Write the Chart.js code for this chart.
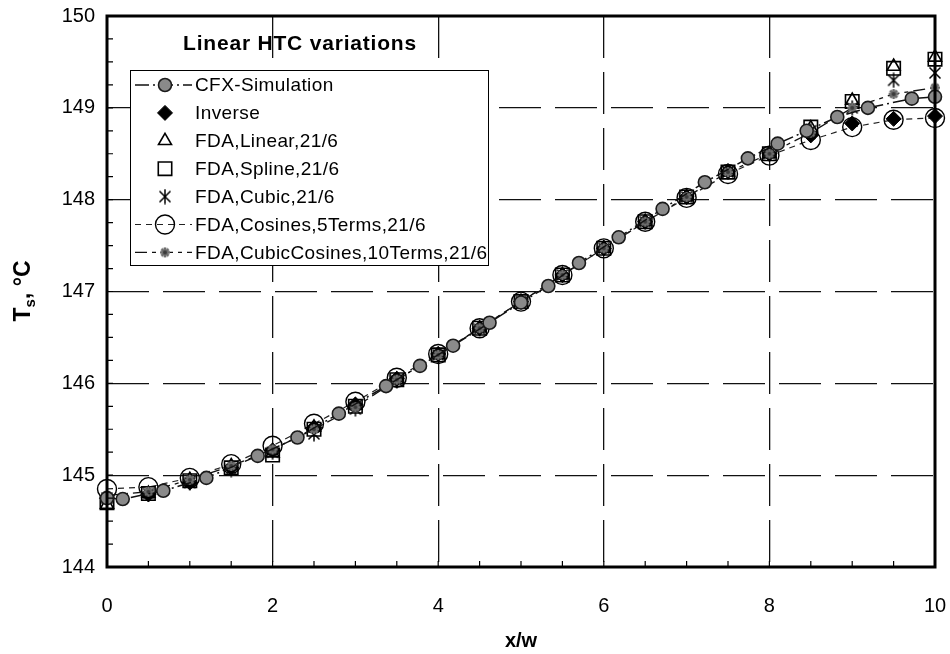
<!DOCTYPE html>
<html>
<head>
<meta charset="utf-8">
<script src="https://cdn.jsdelivr.net/npm/chart.js@4.4.1/dist/chart.umd.min.js"></script>
<style>
html,body{margin:0;padding:0;background:#fff;}
#wrap{width:950px;height:654px;position:relative;}
</style>
</head>
<body>
<div id="wrap"><canvas id="c" width="950" height="654"></canvas></div>
<script>
// ---------- data ----------
const chartTitle = "Linear HTC variations";
const xTitle = "x/w";
const yTicks = [144, 145, 146, 147, 148, 149, 150];
const xTicks = [0, 2, 4, 6, 8, 10];

const cfxX = [0, 0.19, 0.68, 1.2, 1.82, 2.3, 2.8, 3.37, 3.78, 4.18, 4.62, 5.0, 5.33, 5.7, 6.18, 6.71, 7.22, 7.74, 8.1, 8.45, 8.82, 9.19, 9.72, 10];
const cfxY = [144.75, 144.74, 144.83, 144.97, 145.21, 145.41, 145.67, 145.97, 146.19, 146.41, 146.66, 146.88, 147.06, 147.31, 147.59, 147.90, 148.19, 148.45, 148.61, 148.75, 148.90, 149.00, 149.10, 149.12];

const fdaX = [0, 0.5, 1, 1.5, 2, 2.5, 3, 3.5, 4, 4.5, 5, 5.5, 6, 6.5, 7, 7.5, 8, 8.5, 9, 9.5, 10];
const inverseY = [144.75, 144.79, 144.92, 145.08, 145.27, 145.52, 145.77, 146.05, 146.32, 146.60, 146.89, 147.18, 147.47, 147.76, 148.03, 148.31, 148.50, 148.70, 148.83, 148.88, 148.91];
const linearY  = [144.68, 144.80, 144.95, 145.10, 145.24, 145.52, 145.76, 146.04, 146.31, 146.60, 146.89, 147.18, 147.47, 147.76, 148.03, 148.30, 148.50, 148.78, 149.08, 149.45, 149.55];
const splineY  = [144.70, 144.80, 144.94, 145.08, 145.22, 145.50, 145.75, 146.04, 146.31, 146.60, 146.89, 147.18, 147.47, 147.76, 148.03, 148.30, 148.50, 148.79, 149.07, 149.43, 149.53];
const cubicY   = [144.75, 144.80, 144.92, 145.06, 145.25, 145.45, 145.72, 146.03, 146.31, 146.59, 146.89, 147.18, 147.47, 147.76, 148.03, 148.30, 148.50, 148.75, 149.00, 149.30, 149.38];
const cosY     = [144.85, 144.87, 144.97, 145.12, 145.32, 145.56, 145.80, 146.06, 146.32, 146.60, 146.89, 147.18, 147.47, 147.76, 148.02, 148.28, 148.48, 148.65, 148.79, 148.87, 148.89];
const cubCosY  = [144.78, 144.82, 144.95, 145.10, 145.28, 145.50, 145.74, 146.04, 146.31, 146.60, 146.89, 147.18, 147.47, 147.76, 148.03, 148.30, 148.50, 148.73, 149.00, 149.15, 149.22];

const labels = ["CFX-Simulation", "Inverse", "FDA,Linear,21/6", "FDA,Spline,21/6", "FDA,Cubic,21/6", "FDA,Cosines,5Terms,21/6", "FDA,CubicCosines,10Terms,21/6"];

// ---------- marker images ----------
function asteriskCanvas(size, color, lw) {
  const c = document.createElement('canvas');
  c.width = size; c.height = size;
  const g = c.getContext('2d');
  g.strokeStyle = color; g.lineWidth = lw;
  const m = lw, s = size;
  g.beginPath();
  g.moveTo(m + 1, m + 1); g.lineTo(s - m - 1, s - m - 1);
  g.moveTo(s - m - 1, m + 1); g.lineTo(m + 1, s - m - 1);
  g.moveTo(s / 2, m - 1); g.lineTo(s / 2, s - m + 1);
  g.stroke();
  return c;
}
function starCanvas(size) {
  const c = document.createElement('canvas');
  c.width = size; c.height = size;
  const g = c.getContext('2d');
  const r = size / 2 - 1, cx = size / 2, cy = size / 2;
  g.strokeStyle = '#6e6e6e'; g.lineWidth = 2.6;
  g.beginPath();
  for (let k = 0; k < 4; k++) {
    const a = k * Math.PI / 4;
    g.moveTo(cx - r * Math.cos(a), cy - r * Math.sin(a));
    g.lineTo(cx + r * Math.cos(a), cy + r * Math.sin(a));
  }
  g.stroke();
  g.fillStyle = '#3a3a3a';
  g.beginPath(); g.arc(cx, cy, 2, 0, Math.PI * 2); g.fill();
  return c;
}
const astImg = asteriskCanvas(16, '#000', 1.5);
const starImg = starCanvas(12);

function pts(xs, ys) { return xs.map((x, i) => ({ x: x, y: ys[i] })); }

const styles = {
  cfx:    { pointStyle: 'circle', pointRadius: 6.5, pointBackgroundColor: '#8a8a8a', pointBorderColor: '#1a1a1a', pointBorderWidth: 1.6, borderColor: '#111', borderWidth: 1.5, borderDash: [14, 4, 2, 4], showLine: true },
  inv:    { pointStyle: 'rectRot', pointRadius: 7.5, pointBackgroundColor: '#000', pointBorderColor: '#000', pointBorderWidth: 1, showLine: false },
  lin:    { pointStyle: 'triangle', pointRadius: 7.5, pointBackgroundColor: 'rgba(255,255,255,0)', pointBorderColor: '#000', pointBorderWidth: 1.6, showLine: false },
  spl:    { pointStyle: 'rect', pointRadius: 9.5, pointBackgroundColor: 'rgba(255,255,255,0)', pointBorderColor: '#000', pointBorderWidth: 1.6, showLine: false },
  cub:    { pointStyle: astImg, pointRadius: 7, showLine: false },
  cos:    { pointStyle: 'circle', pointRadius: 9.5, pointBackgroundColor: 'rgba(255,255,255,0)', pointBorderColor: '#000', pointBorderWidth: 1.4, borderColor: '#222', borderWidth: 1.2, borderDash: [6, 5], showLine: true },
  cubcos: { pointStyle: starImg, pointRadius: 6, borderColor: '#111', borderWidth: 1.3, borderDash: [12, 5, 4, 5], showLine: true }
};

function ds(label, data, st) {
  return Object.assign({ label: label, data: data, fill: false, tension: 0, clip: false, borderColor: st.borderColor || '#000', borderWidth: st.borderWidth || 1, pointHoverRadius: st.pointRadius }, st);
}

const datasets = [
  ds(labels[0], pts(cfxX, cfxY), styles.cfx),
  ds(labels[6], pts(fdaX, cubCosY), styles.cubcos),
  ds(labels[1], pts(fdaX, inverseY), styles.inv),
  ds(labels[4], pts(fdaX, cubicY), styles.cub),
  ds(labels[2], pts(fdaX, linearY), styles.lin),
  ds(labels[3], pts(fdaX, splineY), styles.spl),
  ds(labels[5], pts(fdaX, cosY), styles.cos)
];

const FONT = '"Liberation Sans", Arial, sans-serif';

function drawMarker(g, st, x, y) {
  g.save();
  if (st.pointStyle instanceof HTMLCanvasElement) {
    g.drawImage(st.pointStyle, x - st.pointStyle.width / 2, y - st.pointStyle.height / 2);
    g.restore(); return;
  }
  const r = st.pointRadius;
  g.fillStyle = st.pointBackgroundColor; g.strokeStyle = st.pointBorderColor; g.lineWidth = st.pointBorderWidth;
  g.beginPath();
  if (st.pointStyle === 'circle') g.arc(x, y, r, 0, Math.PI * 2);
  else if (st.pointStyle === 'rectRot') { g.moveTo(x, y - r); g.lineTo(x + r, y); g.lineTo(x, y + r); g.lineTo(x - r, y); g.closePath(); }
  else if (st.pointStyle === 'rect') { const s = r * Math.SQRT1_2; g.rect(x - s, y - s, 2 * s, 2 * s); }
  else if (st.pointStyle === 'triangle') {
    g.moveTo(x, y - r);
    g.lineTo(x + Math.sin(2 * Math.PI / 3) * r, y - Math.cos(2 * Math.PI / 3) * r);
    g.lineTo(x + Math.sin(4 * Math.PI / 3) * r, y - Math.cos(4 * Math.PI / 3) * r);
    g.closePath();
  }
  g.fill(); g.stroke();
  g.restore();
}

const decor = {
  id: 'decor',
  afterDraw(chart) {
    const g = chart.ctx, a = chart.chartArea;
    const xs = chart.scales.x, ys = chart.scales.y;
    g.save();
    // minor ticks
    g.strokeStyle = '#000'; g.lineWidth = 1.2;
    g.beginPath();
    for (let v = 144.25; v < 150; v += 0.25) { const py = ys.getPixelForValue(v); g.moveTo(a.left, py); g.lineTo(a.left + 6, py); }
    for (let v = 0.5; v < 10; v += 0.5) { const px = xs.getPixelForValue(v); g.moveTo(px, a.bottom); g.lineTo(px, a.bottom - 6); }
    g.stroke();
    // frame
    g.lineWidth = 3; g.strokeStyle = '#000';
    g.strokeRect(a.left, a.top, a.right - a.left, a.bottom - a.top);
    // title
    g.fillStyle = '#000';
    g.font = 'bold 21px ' + FONT; g.textAlign = 'center'; g.textBaseline = 'middle';
    g.letterSpacing = '0.8px';
    g.fillText(chartTitle, 300, 44);
    // legend box
    const bx = 130, by = 70, bw = 358, bh = 195;
    g.fillStyle = '#fff'; g.fillRect(bx, by, bw, bh);
    g.lineWidth = 1; g.strokeStyle = '#000'; g.strokeRect(bx + 0.5, by + 0.5, bw, bh);
    const rows = [
      { st: styles.cfx, line: true }, { st: styles.inv }, { st: styles.lin }, { st: styles.spl },
      { st: styles.cub }, { st: styles.cos, line: true }, { st: styles.cubcos, line: true }
    ];
    g.font = '19px ' + FONT; g.textAlign = 'left'; g.textBaseline = 'middle';
    g.letterSpacing = '0.4px';
    rows.forEach((r, i) => {
      const y = 85 + i * 27.9;
      if (r.line) {
        g.save(); g.strokeStyle = r.st.borderColor; g.lineWidth = r.st.borderWidth; g.setLineDash(r.st.borderDash);
        g.beginPath(); g.moveTo(135, y); g.lineTo(192, y); g.stroke(); g.restore();
      }
      drawMarker(g, r.st, 165, y);
      g.fillStyle = '#000';
      g.fillText(labels[i], 195, y + 1);
    });
    g.letterSpacing = '0px';
    // axis titles
    g.font = 'bold 20px ' + FONT; g.textAlign = 'center'; g.textBaseline = 'middle';
    g.fillText(xTitle, 521, 641);
    g.save();
    g.translate(22, 291); g.rotate(-Math.PI / 2);
    const f1 = 'bold 23px ' + FONT, f2 = 'bold 15px ' + FONT;
    g.font = f1; const wT = g.measureText('T').width; const wR = g.measureText(', °C').width;
    g.font = f2; const wS = g.measureText('s').width;
    let x0 = -(wT + wS + wR) / 2;
    g.textAlign = 'left'; g.textBaseline = 'alphabetic';
    g.font = f1; g.fillText('T', x0, 8);
    g.font = f2; g.fillText('s', x0 + wT, 13);
    g.font = f1; g.fillText(', °C', x0 + wT + wS, 8);
    g.restore();
    g.restore();
  }
};

new Chart(document.getElementById('c'), {
  type: 'scatter',
  data: { datasets: datasets },
  options: {
    responsive: false,
    animation: false,
    layout: { padding: { top: 16, right: 15, left: 0, bottom: 0 } },
    plugins: { legend: { display: false }, tooltip: { enabled: false } },
    scales: {
      x: {
        type: 'linear', min: 0, max: 10,
        afterFit(s) { s.height = 87; s.paddingLeft = 0; s.paddingRight = 0; },
        afterBuildTicks(s) { s.ticks = xTicks.map(v => ({ value: v })); },
        ticks: { color: '#000', font: { family: FONT, size: 20 }, padding: 27, maxRotation: 0 },
        grid: { drawTicks: false, color: c => (c.tick && c.tick.value > 0 && c.tick.value < 10) ? '#111' : 'rgba(0,0,0,0)', lineWidth: 1.3 },
        border: { display: false, dash: [42, 14] }
      },
      y: {
        type: 'linear', min: 144, max: 150,
        afterFit(s) { s.width = 107; s.paddingTop = 0; s.paddingBottom = 0; },
        afterBuildTicks(s) { s.ticks = yTicks.map(v => ({ value: v })); },
        ticks: { color: '#000', font: { family: FONT, size: 20 }, padding: 12 },
        grid: { drawTicks: false, color: c => (c.tick && c.tick.value > 144 && c.tick.value < 150) ? '#111' : 'rgba(0,0,0,0)', lineWidth: 1.3 },
        border: { display: false, dash: [42, 14] }
      }
    }
  },
  plugins: [decor]
});
</script>
</body>
</html>
